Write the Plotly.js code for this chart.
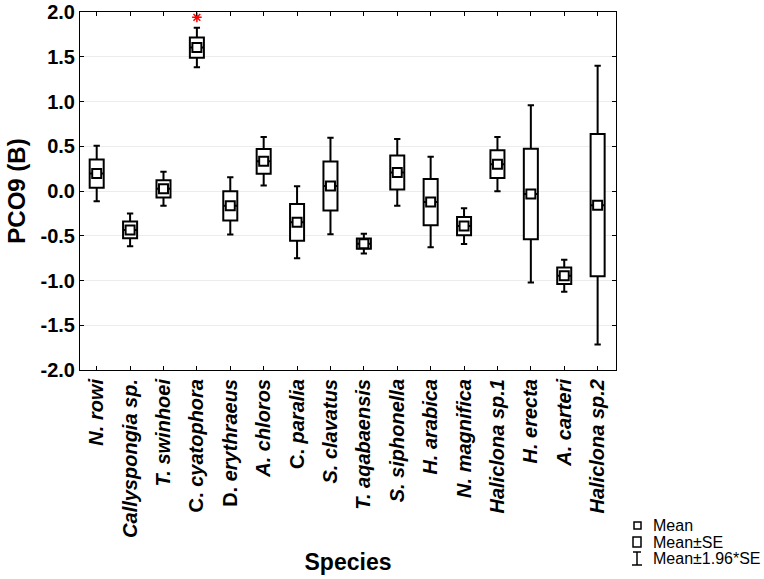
<!DOCTYPE html>
<html>
<head>
<meta charset="utf-8">
<script src="https://cdn.plot.ly/plotly-3.0.1.min.js"></script>
<style>
  body { margin: 0; background: #fff; }
  #chart { width: 764px; height: 579px; }
</style>
</head>
<body>
<div id="chart"></div>
<script>
// species on the x axis and their tick text (italics as in the figure)
const species = ["N. rowi", "Callyspongia sp.", "T. swinhoei", "C. cyatophora", "D. erythraeus",
  "A. chloros", "C. paralia", "S. clavatus", "T. aqabaensis", "S. siphonella", "H. arabica",
  "N. magnifica", "Haliclona sp.1", "H. erecta", "A. carteri", "Haliclona sp.2"];
const speciesLabels = ["<i>N. rowi</i>", "<i>Callyspongia sp.</i>", "<i>T. swinhoei</i>",
  "C. <i>cyatophora</i>", "D. <i>erythraeus</i>", "<i>A. chloros</i>", "C. <i>paralia</i>",
  "<i>S. clavatus</i>", "<i>T. aqabaensis</i>", "<i>S. siphonella</i>", "<i>H. arabica</i>",
  "<i>N. magnifica</i>", "<i>Haliclona sp.1</i>", "<i>H. erecta</i>", "<i>A. carteri</i>",
  "<i>Haliclona sp.2</i>"];

// PCO9 (B) mean and standard error per species
const meanVals = [0.195, -0.435, 0.024, 1.603, -0.166, 0.332, -0.35, 0.056, -0.588, 0.208,
  -0.124, -0.392, 0.30, -0.033, -0.947, -0.158];
const seVals = [0.158, 0.093, 0.097, 0.113, 0.163, 0.138, 0.205, 0.275, 0.056, 0.19,
  0.258, 0.102, 0.155, 0.505, 0.091, 0.794];

// significance marker
const sigSpecies = ["C. cyatophora"];
const sigY = [1.94];

const yTicks = [-2, -1.5, -1, -0.5, 0, 0.5, 1, 1.5, 2];
const yTickText = ["-2.0", "-1.5", "-1.0", "-0.5", "0.0", "0.5", "1.0", "1.5", "2.0"];

const font = "Liberation Sans, Arial, sans-serif";

const boxTrace = {
  type: "box",
  x: species,
  q1: meanVals.map((m, i) => m - seVals[i]),
  median: meanVals,
  q3: meanVals.map((m, i) => m + seVals[i]),
  lowerfence: meanVals.map((m, i) => m - 1.96 * seVals[i]),
  upperfence: meanVals.map((m, i) => m + 1.96 * seVals[i]),
  fillcolor: "white",
  line: { color: "black", width: 2 },
  width: 0.42,
  whiskerwidth: 0.45,
  boxpoints: false,
  showlegend: false,
  hoverinfo: "skip"
};

const meanTrace = {
  type: "scatter",
  mode: "markers",
  x: species,
  y: meanVals,
  marker: { symbol: "square", size: 9, color: "white", line: { color: "black", width: 2 } },
  showlegend: false,
  hoverinfo: "skip"
};

const sigTrace = {
  type: "scatter",
  mode: "markers",
  x: sigSpecies,
  y: sigY,
  marker: { symbol: "asterisk-open", size: 8, color: "red", line: { color: "red", width: 1.5 } },
  showlegend: false,
  hoverinfo: "skip",
  cliponaxis: false
};

// pixel -> paper helpers for the hand-drawn legend (plot area 80..616 x 12..370)
const PL = 80, PW = 536, PT = 12, PH = 358;
const px = v => (v - PL) / PW;
const py = v => (PT + PH - v) / PH;

const legendShapes = [
  { type: "rect", xref: "paper", yref: "paper", x0: px(634), x1: px(641), y0: py(522), y1: py(529), line: { color: "black", width: 1.5 } },
  { type: "rect", xref: "paper", yref: "paper", x0: px(633), x1: px(641), y0: py(537), y1: py(547), line: { color: "black", width: 1.5 } },
  { type: "line", xref: "paper", yref: "paper", x0: px(637), x1: px(637), y0: py(552), y1: py(565), line: { color: "black", width: 1.5 } },
  { type: "line", xref: "paper", yref: "paper", x0: px(633), x1: px(641), y0: py(552), y1: py(552), line: { color: "black", width: 1.5 } },
  { type: "line", xref: "paper", yref: "paper", x0: px(632), x1: px(642), y0: py(565), y1: py(565), line: { color: "black", width: 1.5 } }
];
const legendLabels = ["Mean", "Mean±SE", "Mean±1.96*SE"];
const legendY = [525, 542, 558];
const legendNotes = legendLabels.map((t, i) => ({
  text: t, xref: "paper", yref: "paper", x: px(651), y: py(legendY[i]),
  xanchor: "left", yanchor: "middle", showarrow: false,
  font: { family: font, size: 16, color: "black" }
}));

Plotly.newPlot("chart", [boxTrace, meanTrace, sigTrace], {
  width: 764,
  height: 579,
  margin: { l: 80, r: 148, t: 12, b: 209 },
  paper_bgcolor: "white",
  plot_bgcolor: "white",
  font: { family: font, color: "black" },
  showlegend: false,
  xaxis: {
    type: "category",
    range: [-0.5, 15.55],
    tickvals: species,
    ticktext: speciesLabels,
    tickangle: -90,
    tickfont: { family: font, size: 20, color: "black", weight: "bold" },
    showline: true, linecolor: "black", linewidth: 1, mirror: "ticks",
    ticks: "inside", ticklen: 4, tickcolor: "black",
    showgrid: false,
    title: { text: "<b>Species</b>", font: { family: font, size: 23 }, standoff: 16 }
  },
  yaxis: {
    range: [-2, 2],
    tickvals: yTicks,
    ticktext: yTickText,
    tickfont: { family: font, size: 20, color: "black", weight: "bold" },
    showline: true, linecolor: "black", linewidth: 1, mirror: "ticks",
    ticks: "inside", ticklen: 4, tickcolor: "black",
    showgrid: true, gridcolor: "#ececec", zeroline: false,
    title: { text: "<b>PCO9 (B)</b>", font: { family: font, size: 24 }, standoff: 8 }
  },
  shapes: legendShapes,
  annotations: legendNotes
}, { staticPlot: true });
</script>
</body>
</html>
